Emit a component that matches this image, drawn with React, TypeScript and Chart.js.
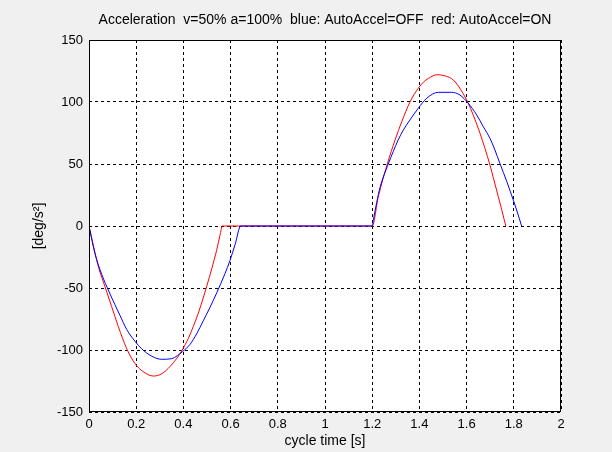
import React, { useEffect, useRef } from 'react';
import { Chart, registerables } from 'chart.js';

Chart.register(...registerables);

const titleText = 'Acceleration  v=50% a=100%  blue: AutoAccel=OFF  red: AutoAccel=ON';
const xTitle = 'cycle time [s]';
const yTitle = '[deg/s\u00B2]';

const xTickValues = [0, 0.2, 0.4, 0.6, 0.8, 1, 1.2, 1.4, 1.6, 1.8, 2];
const xTickLabels = ['0', '0.2', '0.4', '0.6', '0.8', '1', '1.2', '1.4', '1.6', '1.8', '2'];
const yTickValues = [-150, -100, -50, 0, 50, 100, 150];
const yTickLabels = ['-150', '-100', '-50', '0', '50', '100', '150'];

// blue: AutoAccel=OFF
const blueT = [
  0, 0.025, 0.054, 0.085, 0.11, 0.131, 0.16, 0.195, 0.223, 0.266, 0.308, 0.35, 0.375, 0.395,
  0.428, 0.456, 0.484, 0.513, 0.541, 0.576, 0.597, 0.619, 0.643,
  1.2, 1.205, 1.219, 1.233, 1.268, 1.289, 1.31, 1.332, 1.36, 1.395, 1.431, 1.48, 1.536, 1.572,
  1.607, 1.643, 1.671, 1.699, 1.72, 1.741, 1.77, 1.784, 1.812, 1.833,
];
const blueA = [
  0, -22, -39, -53, -63.5, -72, -83.5, -93, -99, -105, -107.5, -107, -104.5, -101.5,
  -95.5, -87, -76.5, -65.5, -54, -38.5, -28, -15, 0,
  0, 5, 19, 31, 50, 60, 69.4, 77.4, 85.5, 94.9, 103, 107.8, 107.8, 105.6,
  99, 89.5, 80, 70.7, 61.3, 50.5, 36, 28.5, 12.9, 0,
];

// red: AutoAccel=ON
const redT = [
  0, 0.02, 0.04, 0.068, 0.096, 0.124, 0.16, 0.195, 0.23, 0.273, 0.31, 0.343, 0.372, 0.395,
  0.421, 0.442, 0.463, 0.484, 0.499, 0.52, 0.541, 0.555, 0.565,
  1.2, 1.226, 1.264, 1.297, 1.325, 1.36, 1.395, 1.417, 1.438, 1.475, 1.51, 1.544, 1.575,
  1.607, 1.628, 1.657, 1.678, 1.699, 1.713, 1.734, 1.749, 1.766,
];
const redA = [
  0, -17, -33, -49, -65, -81, -99, -111, -117.5, -121, -119, -113.4, -106.7, -100,
  -90.6, -81, -70.4, -58, -48.5, -34.5, -19.5, -7.5, 0,
  0, 23.6, 50, 69.4, 84, 100, 111, 116, 119, 122, 121, 117.7, 110,
  99, 89.5, 74.7, 62.4, 49.2, 39, 24, 13, 0,
];

const FONT = "'Liberation Sans', Arial, sans-serif";

export default function App() {
  const ref = useRef<HTMLCanvasElement>(null);

  useEffect(() => {
    document.body.style.margin = '0';
    const canvas = ref.current;
    if (!canvas) return;

    const framePlugin = {
      id: 'frame',
      beforeDraw(chart: any) {
        const { ctx, chartArea: a } = chart;
        ctx.save();
        ctx.fillStyle = '#f0f0f0';
        ctx.fillRect(0, 0, chart.width, chart.height);
        ctx.fillStyle = '#ffffff';
        ctx.fillRect(a.left, a.top, a.right - a.left, a.bottom - a.top);
        ctx.restore();
      },
      afterDraw(chart: any) {
        const { ctx, chartArea: a } = chart;
        ctx.save();
        ctx.strokeStyle = '#000000';
        ctx.lineWidth = 1;
        ctx.setLineDash([]);
        ctx.strokeRect(a.left + 0.5, a.top + 0.5, a.right - a.left - 1, a.bottom - a.top - 1);
        ctx.restore();
      },
    };

    const chart = new Chart(canvas, {
      type: 'line',
      data: {
        datasets: [
          {
            label: 'AutoAccel=OFF',
            data: blueT.map((t, i) => ({ x: t, y: blueA[i] })),
            borderColor: '#0000ff',
            borderWidth: 1,
            pointRadius: 0,
            fill: false,
            cubicInterpolationMode: 'monotone',
          },
          {
            label: 'AutoAccel=ON',
            data: redT.map((t, i) => ({ x: t, y: redA[i] })),
            borderColor: '#ff0000',
            borderWidth: 1,
            pointRadius: 0,
            fill: false,
            cubicInterpolationMode: 'monotone',
          },
        ],
      },
      options: {
        responsive: false,
        animation: false,
        devicePixelRatio: 1,
        layout: { padding: { left: 0, right: 51, top: 0, bottom: 0 } },
        plugins: {
          legend: { display: false },
          tooltip: { enabled: false },
          title: {
            display: true,
            text: titleText,
            fullSize: false,
            color: '#000000',
            font: { family: FONT, size: 14, weight: 'normal', lineHeight: 1.2 },
            padding: { top: 12, bottom: 11.2 },
          },
        },
        scales: {
          x: {
            type: 'linear',
            min: 0,
            max: 2,
            afterBuildTicks: (s: any) => {
              s.ticks = xTickValues.map((v) => ({ value: v }));
            },
            afterFit: (s: any) => {
              s.height = 40;
            },
            ticks: {
              callback: (_v: any, i: number) => xTickLabels[i],
              color: '#000000',
              font: { family: FONT, size: 13 },
              padding: 5,
              maxRotation: 0,
              autoSkip: false,
            },
            grid: { color: '#000000', lineWidth: 1, drawTicks: false },
            border: { display: false, dash: [3, 3] },
            title: {
              display: true,
              text: xTitle,
              color: '#000000',
              font: { family: FONT, size: 14, lineHeight: 1.2 },
              padding: { top: 0, bottom: 2 },
            },
          },
          y: {
            type: 'linear',
            min: -150,
            max: 150,
            afterBuildTicks: (s: any) => {
              s.ticks = yTickValues.map((v) => ({ value: v }));
            },
            afterFit: (s: any) => {
              s.width = 89;
            },
            ticks: {
              callback: (_v: any, i: number) => yTickLabels[i],
              color: '#000000',
              font: { family: FONT, size: 13 },
              padding: 6,
              autoSkip: false,
            },
            grid: { color: '#000000', lineWidth: 1, drawTicks: false },
            border: { display: false, dash: [3, 3] },
            title: {
              display: true,
              text: yTitle,
              color: '#000000',
              font: { family: FONT, size: 14, lineHeight: 1.2 },
              padding: { top: 31, bottom: 0 },
            },
          },
        },
      },
      plugins: [framePlugin],
    } as any);

    return () => {
      chart.destroy();
    };
  }, []);

  return (
    <div style={{ position: 'absolute', left: 0, top: 0, width: 612, height: 452 }}>
      <canvas ref={ref} width={612} height={452} style={{ display: 'block', width: 612, height: 452 }} />
    </div>
  );
}
